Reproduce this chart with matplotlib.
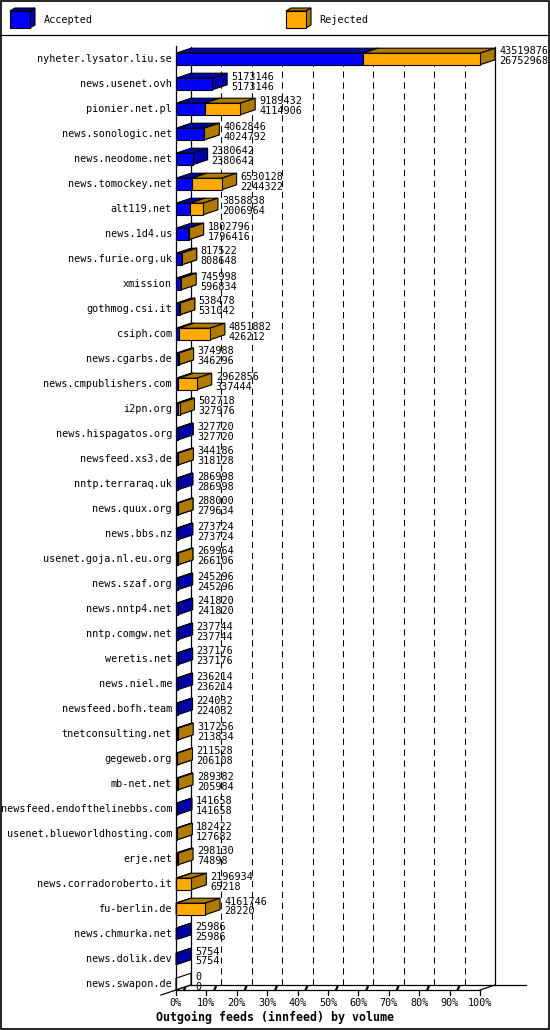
import matplotlib
matplotlib.use('Agg')
import matplotlib.pyplot as plt
from matplotlib.patches import Polygon, Rectangle
from matplotlib.lines import Line2D
import matplotlib.transforms as mtransforms

hosts = ['nyheter.lysator.liu.se', 'news.usenet.ovh', 'pionier.net.pl', 'news.sonologic.net',
         'news.neodome.net', 'news.tomockey.net', 'alt119.net', 'news.1d4.us', 'news.furie.org.uk',
         'xmission', 'gothmog.csi.it', 'csiph.com', 'news.cgarbs.de', 'news.cmpublishers.com',
         'i2pn.org', 'news.hispagatos.org', 'newsfeed.xs3.de', 'nntp.terraraq.uk', 'news.quux.org',
         'news.bbs.nz', 'usenet.goja.nl.eu.org', 'news.szaf.org', 'news.nntp4.net', 'nntp.comgw.net',
         'weretis.net', 'news.niel.me', 'newsfeed.bofh.team', 'tnetconsulting.net', 'gegeweb.org',
         'mb-net.net', 'newsfeed.endofthelinebbs.com', 'usenet.blueworldhosting.com', 'erje.net',
         'news.corradoroberto.it', 'fu-berlin.de', 'news.chmurka.net', 'news.dolik.dev', 'news.swapon.de']
offered = [43519876, 5173146, 9189432, 4062846, 2380642, 6530128, 3858838, 1802796, 817522,
           745998, 538478, 4851882, 374988, 2962856, 502718, 327720, 344186, 286998, 288000,
           273724, 269964, 245296, 241820, 237744, 237176, 236214, 224032, 317256, 211528,
           289382, 141658, 182422, 298130, 2196934, 4161746, 25986, 5754, 0]
accepted = [26752968, 5173146, 4114906, 4024792, 2380642, 2244322, 2006964, 1796416, 808648,
            596834, 531042, 426212, 346296, 337444, 327976, 327720, 318128, 286998, 279634,
            273724, 266106, 245296, 241820, 237744, 237176, 236214, 224032, 213834, 206108,
            205984, 141658, 127682, 74898, 65218, 28220, 25986, 5754, 0]
tick_values = [0, 10, 20, 30, 40, 50, 60, 70, 80, 90, 100]
tick_labels = ['0%', '10%', '20%', '30%', '40%', '50%', '60%', '70%', '80%', '90%', '100%']
series_names = ['Accepted', 'Rejected']
title = 'Outgoing feeds (innfeed) by volume'

FACE = {'Accepted': ('#0000ff', '#0000a8'), 'Rejected': ('#ffaa00', '#b07a00')}
FONT = 'DejaVu Sans Mono'
FS = 7.3

W, H = 550, 1030
fig = plt.figure(figsize=(W / 100, H / 100), dpi=100)

# layout in pixels
X0, X1 = 176, 480
YTOP, YBOT = 43, 990
ROW0, PITCH = 59, 25
DX_PX, DY_PX = 15, 5

# frame / legend layer
bg = fig.add_axes([0, 0, 1, 1], zorder=0)
bg.set_xlim(0, W)
bg.set_ylim(H, 0)
bg.axis('off')
bg.add_patch(Rectangle((0.5, 0.5), W - 1.5, H - 1.5, fill=False, ec='black', lw=1.2))
bg.add_line(Line2D([0, W], [34.5, 34.5], color='black', lw=0.9))


def box_legend(x, y, w, h, name):
    front, dark = FACE[name]
    d, e = 5, 3
    bg.add_patch(Polygon([(x, y), (x + w, y), (x + w + d, y - e), (x + d, y - e)],
                         fc=dark, ec='black', lw=0.8))
    bg.add_patch(Polygon([(x + w, y), (x + w, y + h), (x + w + d, y + h - e), (x + w + d, y - e)],
                         fc=dark, ec='black', lw=0.8))
    bg.add_patch(Rectangle((x, y), w, h, fc=front, ec='black', lw=0.8))


box_legend(10, 11, 20, 17, series_names[0])
bg.text(44, 20, series_names[0], family=FONT, size=FS, va='center', ha='left')
box_legend(286, 11, 20, 17, series_names[1])
bg.text(319, 20, series_names[1], family=FONT, size=FS, va='center', ha='left')

# main axes (front plane)
ax = fig.add_axes([X0 / W, (H - YBOT) / H, (X1 - X0) / W, (YBOT - YTOP) / H], zorder=1)
ax.set_xlim(0, 100)
y_bot = (YBOT - ROW0) / PITCH
y_top = (YTOP - ROW0) / PITCH
ax.set_ylim(y_bot, y_top)
ax.axis('off')

dx = DX_PX / (X1 - X0) * 100.0
dy = DY_PX / PITCH
hh = 5.8 / PITCH
grid_top = y_top + 0.16

# back wall grid
for v in tick_values:
    if v in (0, 100):
        ax.add_line(Line2D([v + dx, v + dx], [y_bot - dy, grid_top], color='black', lw=0.9,
                           clip_on=False, zorder=1))
    else:
        ax.add_line(Line2D([v + dx, v + dx], [y_bot - dy, grid_top], color='black', lw=0.75,
                           ls=(0, (6, 4.5)), clip_on=False, zorder=1))
# floor
ax.add_line(Line2D([0 + dx, 100 + dx + 28 / (X1 - X0) * 100 + 1.0], [y_bot - dy, y_bot - dy],
                   color='black', lw=0.9, clip_on=False, zorder=1))
ax.add_line(Line2D([0, 100], [y_bot, y_bot], color='black', lw=0.9, clip_on=False, zorder=1))
ax.add_line(Line2D([-dx, dx], [y_bot + dy, y_bot - dy], color='black', lw=0.9, clip_on=False, zorder=1))
ax.add_line(Line2D([100, 100 + dx], [y_bot, y_bot - dy], color='black', lw=0.9, clip_on=False, zorder=1))
for v in tick_values:
    ax.add_line(Line2D([v, v], [y_bot, y_bot + 0.2], color='black', lw=0.9, clip_on=False, zorder=1))
    if v < 100:
        ax.add_line(Line2D([v + 0.55 * dx, v + 0.62 * dx], [y_bot - 0.02, y_bot - 0.12],
                           color='black', lw=1.6, clip_on=False, zorder=1))

total_max = max(offered)


def box(x0, x1, yc, name, z):
    front, dark = FACE[name]
    yt, yb = yc - hh, yc + hh
    ax.add_patch(Polygon([(x0, yt), (x1, yt), (x1 + dx, yt - dy), (x0 + dx, yt - dy)],
                         fc=dark, ec='black', lw=0.8, clip_on=False, zorder=z))
    ax.add_patch(Polygon([(x1, yt), (x1, yb), (x1 + dx, yb - dy), (x1 + dx, yt - dy)],
                         fc=dark, ec='black', lw=0.8, clip_on=False, zorder=z))
    ax.add_patch(Polygon([(x0, yt), (x1, yt), (x1, yb), (x0, yb)],
                         fc=front, ec='black', lw=0.8, clip_on=False, zorder=z))


lab_tr = mtransforms.offset_copy(ax.transData, fig=fig, x=-4, y=0, units='dots')
num_tr = mtransforms.offset_copy(ax.transData, fig=fig, x=19, y=0, units='dots')

for i, (hname, off, acc) in enumerate(zip(hosts, offered, accepted)):
    p_acc = acc / total_max * 100
    p_off = off / total_max * 100
    if off == 0:
        yt, yb = i - hh, i + hh
        ax.add_patch(Polygon([(0, yt), (0, yb), (dx, yb - dy), (dx, yt - dy)],
                             fc='white', ec='black', lw=0.8, clip_on=False, zorder=3))
    else:
        box(0, p_acc, i, series_names[0], 3)
        if off > acc:
            box(p_acc, p_off, i, series_names[1], 4)
    ax.text(0, i, hname, transform=lab_tr, ha='right', va='center', family=FONT, size=FS,
            clip_on=False, zorder=6)
    ax.text(p_off, i - 0.3, str(off), transform=num_tr, ha='left', va='center', family=FONT,
            size=FS, clip_on=False, zorder=6)
    ax.text(p_off, i + 0.1, str(acc), transform=num_tr, ha='left', va='center', family=FONT,
            size=FS, clip_on=False, zorder=6)

# front y axis line
ax.add_line(Line2D([0, 0], [y_bot, y_top + 0.1], color='black', lw=0.9, clip_on=False, zorder=5))

tick_tr = mtransforms.offset_copy(ax.transData, fig=fig, x=0, y=-13, units='dots')
for v, t in zip(tick_values, tick_labels):
    ax.text(v, y_bot, t, transform=tick_tr, ha='center', va='center', family=FONT, size=FS,
            clip_on=False)

fig.text(0.5, 1 - 1017 / H, title, ha='center', va='center', family=FONT, size=8.4,
         weight='bold')

fig.savefig('out.png', dpi=100)
